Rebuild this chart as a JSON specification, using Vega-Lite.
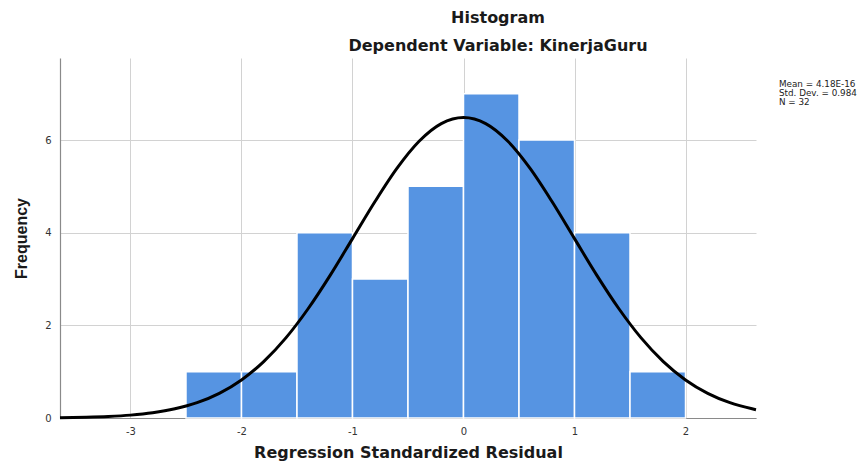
{
  "$schema": "https://vega.github.io/schema/vega-lite/v6.json",
  "autosize": {"type": "none"},
  "padding": {"left": 60, "top": 58, "right": 110, "bottom": 53},
  "width": 696,
  "height": 360,
  "background": "white",
  "config": {
    "view": {"stroke": null},
    "font": "DejaVu Sans"
  },
  "title": {
    "text": "Histogram",
    "subtitle": "Dependent Variable: KinerjaGuru",
    "anchor": "middle",
    "frame": "group",
    "dx": 90,
    "offset": 4,
    "font": "DejaVu Sans",
    "fontSize": 16,
    "fontWeight": "bold",
    "color": "#1a1a1a",
    "subtitleFont": "DejaVu Sans",
    "subtitleFontSize": 16,
    "subtitleFontWeight": "bold",
    "subtitleColor": "#1a1a1a",
    "subtitlePadding": 12
  },
  "datasets": {
    "bars": [
      {"bin_start": -2.5, "bin_end": -2.0, "count": 1},
      {"bin_start": -2.0, "bin_end": -1.5, "count": 1},
      {"bin_start": -1.5, "bin_end": -1.0, "count": 4},
      {"bin_start": -1.0, "bin_end": -0.5, "count": 3},
      {"bin_start": -0.5, "bin_end": 0.0, "count": 5},
      {"bin_start": 0.0, "bin_end": 0.5, "count": 7},
      {"bin_start": 0.5, "bin_end": 1.0, "count": 6},
      {"bin_start": 1.0, "bin_end": 1.5, "count": 4},
      {"bin_start": 1.5, "bin_end": 2.0, "count": 1}
    ],
    "curve": [
      {"x": -3.635, "y": 0.007},
      {"x": -3.4, "y": 0.017},
      {"x": -3.2, "y": 0.033},
      {"x": -3.0, "y": 0.062},
      {"x": -2.8, "y": 0.113},
      {"x": -2.6, "y": 0.198},
      {"x": -2.4, "y": 0.331},
      {"x": -2.2, "y": 0.533},
      {"x": -2.0, "y": 0.822},
      {"x": -1.8, "y": 1.217},
      {"x": -1.6, "y": 1.729},
      {"x": -1.4, "y": 2.358},
      {"x": -1.2, "y": 3.084},
      {"x": -1.0, "y": 3.871},
      {"x": -0.8, "y": 4.661},
      {"x": -0.6, "y": 5.387},
      {"x": -0.4, "y": 5.973},
      {"x": -0.2, "y": 6.354},
      {"x": 0.0, "y": 6.487},
      {"x": 0.2, "y": 6.354},
      {"x": 0.4, "y": 5.973},
      {"x": 0.6, "y": 5.387},
      {"x": 0.8, "y": 4.661},
      {"x": 1.0, "y": 3.871},
      {"x": 1.2, "y": 3.084},
      {"x": 1.4, "y": 2.358},
      {"x": 1.6, "y": 1.729},
      {"x": 1.8, "y": 1.217},
      {"x": 2.0, "y": 0.822},
      {"x": 2.2, "y": 0.533},
      {"x": 2.4, "y": 0.331},
      {"x": 2.6, "y": 0.198},
      {"x": 2.635, "y": 0.179}
    ],
    "stats": [
      {"label": "Mean = 4.18E-16\nStd. Dev. = 0.984\nN = 32"}
    ]
  },
  "layer": [
    {
      "data": {"name": "bars"},
      "mark": {"type": "rect", "color": "#5694e2", "stroke": "white", "strokeWidth": 1.5},
      "encoding": {
        "x": {
          "field": "bin_start", "type": "quantitative",
          "scale": {"domain": [-3.635, 2.635], "nice": false, "zero": false},
          "axis": {
            "values": [-3, -2, -1, 0, 1, 2],
            "labelExpr": "datum.value + ''",
            "title": "Regression Standardized Residual",
            "titleFont": "DejaVu Sans",
            "titleFontSize": 16,
            "titleFontWeight": "bold",
            "titleColor": "#1a1a1a",
            "titlePadding": 8,
            "labelFont": "DejaVu Sans",
            "labelFontSize": 10,
            "labelColor": "#333333",
            "labelPadding": 8,
            "ticks": false,
            "domainColor": "#8a8a8a",
            "domainWidth": 1.2,
            "grid": true,
            "gridColor": "#d2d2d2",
            "gridWidth": 1
          }
        },
        "x2": {"field": "bin_end"},
        "y": {
          "field": "count", "type": "quantitative",
          "scale": {"domain": [0, 7.77], "nice": false, "zero": true},
          "axis": {
            "values": [0, 2, 4, 6],
            "labelExpr": "datum.value + ''",
            "title": "Frequency",
            "titleFont": "Liberation Sans",
            "titleFontSize": 16,
            "titleFontWeight": "bold",
            "titleColor": "#1a1a1a",
            "titlePadding": 15,
            "labelFont": "DejaVu Sans",
            "labelFontSize": 10,
            "labelColor": "#333333",
            "labelPadding": 9,
            "ticks": false,
            "domainColor": "#8a8a8a",
            "domainWidth": 1.2,
            "grid": true,
            "gridColor": "#d2d2d2",
            "gridWidth": 1
          }
        },
        "y2": {"datum": 0}
      }
    },
    {
      "data": {"name": "curve"},
      "mark": {"type": "line", "color": "black", "strokeWidth": 3, "interpolate": "monotone"},
      "encoding": {
        "x": {"field": "x", "type": "quantitative"},
        "y": {"field": "y", "type": "quantitative"}
      }
    },
    {
      "data": {"name": "stats"},
      "mark": {
        "type": "text", "align": "left", "baseline": "top",
        "lineBreak": "\n", "lineHeight": 9,
        "font": "DejaVu Sans", "fontSize": 8.8, "color": "#222222"
      },
      "encoding": {
        "x": {"datum": 2.842, "type": "quantitative"},
        "y": {"datum": 7.30, "type": "quantitative"},
        "text": {"field": "label"}
      }
    }
  ]
}
